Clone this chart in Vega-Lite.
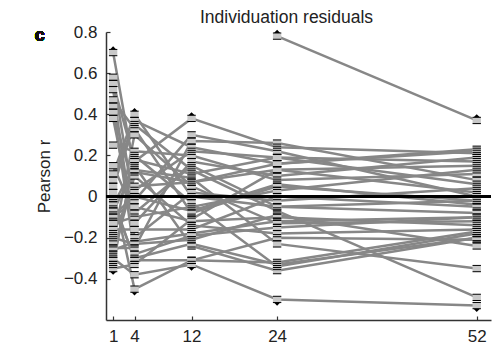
{
  "$schema": "https://vega.github.io/schema/vega-lite/v6.json",
  "width": 385,
  "height": 288,
  "autosize": {"type": "none"},
  "padding": {"left": 106, "top": 32, "right": 6, "bottom": 24},
  "background": "white",
  "config": {"view": {"stroke": null}, "font": "Liberation Sans"},
  "title": {"text": "Individuation residuals", "fontSize": 17.5, "fontWeight": "normal", "color": "#222", "font": "Liberation Sans", "dx": -12, "offset": -3},
  "data": {"values": [
    {"s":1,"w":1,"r":0.70},{"s":1,"w":4,"r":0.12},{"s":1,"w":12,"r":0.07},{"s":1,"w":24,"r":0.13},{"s":1,"w":52,"r":0.15},
    {"s":2,"w":1,"r":0.58},{"s":2,"w":4,"r":-0.05},{"s":2,"w":12,"r":-0.12},{"s":2,"w":24,"r":-0.10},{"s":2,"w":52,"r":-0.14},
    {"s":3,"w":1,"r":0.55},{"s":3,"w":4,"r":0.17},{"s":3,"w":12,"r":0.38},{"s":3,"w":24,"r":0.24},{"s":3,"w":52,"r":0.21},
    {"s":4,"w":1,"r":0.52},{"s":4,"w":4,"r":-0.20},{"s":4,"w":12,"r":0.02},{"s":4,"w":24,"r":-0.02},{"s":4,"w":52,"r":0.04},
    {"s":5,"w":1,"r":0.47},{"s":5,"w":4,"r":0.33},{"s":5,"w":12,"r":-0.08},{"s":5,"w":24,"r":0.05},{"s":5,"w":52,"r":-0.02},
    {"s":6,"w":1,"r":0.44},{"s":6,"w":4,"r":-0.28},{"s":6,"w":12,"r":-0.19},{"s":6,"w":24,"r":-0.15},{"s":6,"w":52,"r":-0.10},
    {"s":7,"w":1,"r":0.41},{"s":7,"w":4,"r":0.03},{"s":7,"w":12,"r":0.22},{"s":7,"w":24,"r":0.19},{"s":7,"w":52,"r":0.06},
    {"s":8,"w":1,"r":0.38},{"s":8,"w":4,"r":-0.13},{"s":8,"w":12,"r":0.17},{"s":8,"w":24,"r":0.10},{"s":8,"w":52,"r":0.19},
    {"s":9,"w":1,"r":0.25},{"s":9,"w":4,"r":0.22},{"s":9,"w":12,"r":0.20},{"s":9,"w":24,"r":0.08},{"s":9,"w":52,"r":0.11},
    {"s":10,"w":1,"r":0.11},{"s":10,"w":4,"r":0.40},{"s":10,"w":12,"r":0.00},{"s":10,"w":24,"r":-0.05},{"s":10,"w":52,"r":-0.08},
    {"s":11,"w":1,"r":0.08},{"s":11,"w":4,"r":0.37},{"s":11,"w":12,"r":0.24},{"s":11,"w":24,"r":0.16},{"s":11,"w":52,"r":0.23},
    {"s":12,"w":1,"r":0.05},{"s":12,"w":4,"r":0.35},{"s":12,"w":12,"r":0.13},{"s":12,"w":24,"r":-0.07},{"s":12,"w":52,"r":-0.49},
    {"s":13,"w":1,"r":0.02},{"s":13,"w":4,"r":-0.45},{"s":13,"w":12,"r":-0.31},{"s":13,"w":24,"r":-0.20},{"s":13,"w":52,"r":-0.21},
    {"s":14,"w":1,"r":-0.30},{"s":14,"w":4,"r":-0.38},{"s":14,"w":12,"r":-0.33},{"s":14,"w":24,"r":-0.50},{"s":14,"w":52,"r":-0.53},
    {"s":15,"w":1,"r":-0.01},{"s":15,"w":4,"r":-0.31},{"s":15,"w":12,"r":-0.31},{"s":15,"w":24,"r":-0.32},{"s":15,"w":52,"r":-0.17},
    {"s":16,"w":1,"r":-0.04},{"s":16,"w":4,"r":0.15},{"s":16,"w":12,"r":-0.24},{"s":16,"w":24,"r":-0.36},{"s":16,"w":52,"r":-0.20},
    {"s":17,"w":1,"r":-0.07},{"s":17,"w":4,"r":0.13},{"s":17,"w":12,"r":0.09},{"s":17,"w":24,"r":-0.23},{"s":17,"w":52,"r":-0.35},
    {"s":18,"w":1,"r":-0.10},{"s":18,"w":4,"r":-0.02},{"s":18,"w":12,"r":0.30},{"s":18,"w":24,"r":0.22},{"s":18,"w":52,"r":0.00},
    {"s":19,"w":1,"r":-0.13},{"s":19,"w":4,"r":-0.10},{"s":19,"w":12,"r":-0.05},{"s":19,"w":24,"r":0.03},{"s":19,"w":52,"r":0.13},
    {"s":20,"w":1,"r":-0.16},{"s":20,"w":4,"r":-0.16},{"s":20,"w":12,"r":-0.16},{"s":20,"w":24,"r":0.00},{"s":20,"w":52,"r":-0.05},
    {"s":21,"w":1,"r":-0.20},{"s":21,"w":4,"r":-0.23},{"s":21,"w":12,"r":-0.21},{"s":21,"w":24,"r":-0.09},{"s":21,"w":52,"r":-0.24},
    {"s":22,"w":1,"r":-0.22},{"s":22,"w":4,"r":0.30},{"s":22,"w":12,"r":0.05},{"s":22,"w":24,"r":-0.13},{"s":22,"w":52,"r":-0.12},
    {"s":23,"w":1,"r":-0.25},{"s":23,"w":4,"r":-0.25},{"s":23,"w":12,"r":0.27},{"s":23,"w":24,"r":0.26},{"s":23,"w":52,"r":0.08},
    {"s":24,"w":1,"r":-0.28},{"s":24,"w":4,"r":0.10},{"s":24,"w":12,"r":-0.14},{"s":24,"w":24,"r":-0.18},{"s":24,"w":52,"r":-0.16},
    {"s":25,"w":1,"r":-0.33},{"s":25,"w":4,"r":0.20},{"s":25,"w":12,"r":-0.03},{"s":25,"w":24,"r":-0.34},{"s":25,"w":52,"r":-0.18},
    {"s":26,"w":1,"r":-0.35},{"s":26,"w":4,"r":-0.33},{"s":26,"w":12,"r":-0.11},{"s":26,"w":24,"r":0.13},{"s":26,"w":52,"r":0.02},
    {"s":27,"w":1,"r":0.15},{"s":27,"w":4,"r":-0.08},{"s":27,"w":12,"r":0.15},{"s":27,"w":24,"r":-0.05},{"s":27,"w":52,"r":-0.02},
    {"s":28,"w":1,"r":-0.18},{"s":28,"w":4,"r":0.05},{"s":28,"w":12,"r":0.07},{"s":28,"w":24,"r":0.16},{"s":28,"w":52,"r":0.22},
    {"s":29,"w":1,"r":-0.03},{"s":29,"w":4,"r":-0.30},{"s":29,"w":12,"r":-0.23},{"s":29,"w":24,"r":-0.33},{"s":29,"w":52,"r":-0.20},
    {"s":30,"w":1,"r":-0.09},{"s":30,"w":4,"r":0.00},{"s":30,"w":12,"r":-0.07},{"s":30,"w":24,"r":0.06},{"s":30,"w":52,"r":-0.04},
    {"s":31,"w":1,"r":-0.31},{"s":31,"w":4,"r":0.18},{"s":31,"w":12,"r":0.11},{"s":31,"w":24,"r":0.19},{"s":31,"w":52,"r":0.17},
    {"s":32,"w":24,"r":0.78},{"s":32,"w":52,"r":0.37},
    {"s":33,"w":1,"r":-0.26},{"s":33,"w":4,"r":-0.22},{"s":33,"w":12,"r":-0.18},{"s":33,"w":24,"r":-0.12},{"s":33,"w":52,"r":-0.10}
  ]},
  "encoding": {
    "x": {"field": "w", "type": "quantitative",
      "scale": {"domain": [0, 54], "nice": false, "zero": false},
      "axis": {"values": [1, 4, 12, 24, 52], "title": null, "grid": false, "tickSize": -4, "labelPadding": 12,
        "labelFontSize": 17, "labelColor": "#222", "labelFont": "Liberation Sans", "domainColor": "#333", "domainWidth": 1.5, "tickColor": "#333", "tickWidth": 1.2}},
    "y": {"field": "r", "type": "quantitative",
      "scale": {"domain": [-0.6, 0.8], "nice": false, "zero": false},
      "axis": {"values": [-0.4, -0.2, 0, 0.2, 0.4, 0.6, 0.8], "format": ".1~f", "title": "Pearson r", "grid": false, "tickSize": -4, "labelPadding": 13,
        "labelFontSize": 17, "labelColor": "#222", "labelFont": "Liberation Sans", "titleFontSize": 17, "titleFontWeight": "normal", "titleColor": "#222", "titleFont": "Liberation Sans", "titlePadding": 10,
        "domainColor": "#333", "domainWidth": 1.5, "tickColor": "#333", "tickWidth": 1.2}}
  },
  "layer": [
    {"mark": {"type": "line", "color": "#878787", "strokeWidth": 2.5, "clip": true},
     "encoding": {"detail": {"field": "s", "type": "nominal"}, "order": {"field": "w"}}},
    {"mark": {"type": "point", "shape": "M-1,-0.75H1V0.75H-1Z", "filled": true, "fill": "#c8c8c8", "opacity": 1, "size": 70, "strokeWidth": 0}},
    {"mark": {"type": "point", "shape": "M-1,-0.75H1M-1,0.75H1", "filled": false, "stroke": "#000", "opacity": 1, "size": 70, "strokeWidth": 1}},
    {"transform": [{"joinaggregate": [{"op": "max", "field": "r", "as": "rmax"}], "groupby": ["w"]}, {"filter": "datum.r == datum.rmax"}],
     "mark": {"type": "point", "shape": "M-0.75,-0.75L0,-1.5L0.75,-0.75Z", "filled": true, "fill": "#000", "opacity": 1, "size": 70, "strokeWidth": 0}},
    {"transform": [{"joinaggregate": [{"op": "min", "field": "r", "as": "rmin"}], "groupby": ["w"]}, {"filter": "datum.r == datum.rmin"}],
     "mark": {"type": "point", "shape": "M-0.75,0.75L0,1.5L0.75,0.75Z", "filled": true, "fill": "#000", "opacity": 1, "size": 70, "strokeWidth": 0}},
    {"mark": {"type": "rule", "color": "#000", "strokeWidth": 3},
     "encoding": {"y": {"datum": 0}, "x": {"datum": 0}, "x2": {"datum": 54}}},
    {"mark": {"type": "text", "text": "c", "fontSize": 18, "fontWeight": "bold", "font": "Liberation Sans", "color": "#111", "align": "center", "baseline": "middle"},
     "encoding": {"x": {"datum": -9.3}, "y": {"datum": 0.78}}}
  ]
}
